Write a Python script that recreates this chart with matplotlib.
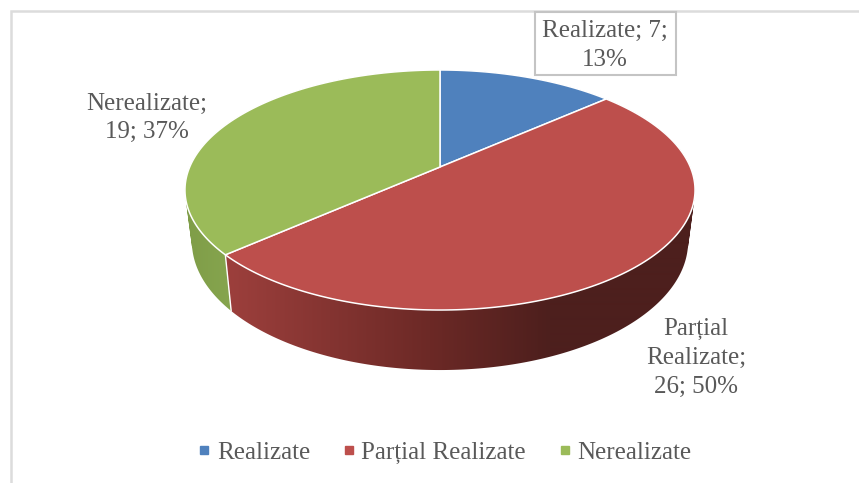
import numpy as np
import matplotlib
matplotlib.use("Agg")
import matplotlib.pyplot as plt
from matplotlib.colors import to_rgb
from matplotlib.lines import Line2D
from matplotlib.patches import PathPatch, Polygon, Rectangle
from matplotlib.path import Path

plt.rcParams["font.family"] = ["Liberation Serif", "DejaVu Serif"]

names = ["Realizate", "Parțial Realizate", "Nerealizate"]
values = [7, 26, 19]
label_heads = ["Realizate; {v};\n{p}%", "Parțial\nRealizate;\n{v}; {p}%", "Nerealizate;\n{v}; {p}%"]

colors = ["#4f81bd", "#bd4f4c", "#9bbb59"]
wall_x = [[200, 700], [230, 430, 550], [185, 232]]
wall_cols = [["#3f6797", "#3f6797"], ["#9c3f3c", "#6c2926", "#4d1f1d"], ["#7f9d48", "#86a54e"]]
label_pos = [(605, 45.5), (696, 358), (147, 118)]

TEXT = "#595959"
FS = 18


def project(theta, cx, cy, a, b, k=0.1917):
    # tilted disc, the far half looks shorter than the near half
    w = 1 + k * np.cos(theta)
    return cx + a * np.sin(theta) / w, cy - b * np.cos(theta) / w


def top(theta):
    return project(theta, 440, 167, 250.3, 115.6)


def bottom(theta):
    return project(theta, 440, 217, 243.5, 123.7)


fig = plt.figure(figsize=(8.59, 4.83), dpi=100)
ax = fig.add_axes([0, 0, 1, 1])
ax.axis("off")

# chart frame, cut off on the right and at the bottom
ax.plot([10.5, 10.5, 859], [483, 11, 11], color="#dcdcdc", lw=1.8, solid_joinstyle="miter")

total = sum(values)
edges = np.cumsum([0] + values) / total * 2 * np.pi

# side walls: horizontal gradient image clipped to the wall shape
xs = np.arange(859) + 0.5
for i in range(len(values)):
    th = np.linspace(edges[i], edges[i + 1], int((edges[i + 1] - edges[i]) * 120) + 2)
    tx, ty = top(th)
    bx, by = bottom(th)
    quads = []
    for j in range(len(th) - 1):
        q = [(tx[j], ty[j]), (tx[j + 1], ty[j + 1]), (bx[j + 1], by[j + 1]), (bx[j], by[j])]
        # same winding for every quad, or the nonzero fill cancels where they overlap
        area = sum(q[n][0] * q[(n + 1) % 4][1] - q[(n + 1) % 4][0] * q[n][1] for n in range(4))
        if area < 0:
            q = q[::-1]
        quads.append(Path(q + [q[0]], closed=True))
    shape = PathPatch(Path.make_compound_path(*quads), transform=ax.transData, facecolor="none", edgecolor="none")
    ax.add_patch(shape)
    rgb = np.array([to_rgb(c) for c in wall_cols[i]])
    grad = np.stack([np.interp(xs, wall_x[i], rgb[:, n]) for n in range(3)], axis=-1)[None, :, :]
    im = ax.imshow(grad, extent=(0, 859, 483, 0), aspect="auto", interpolation="bilinear", zorder=2)
    im.set_clip_path(shape)

# seams between the walls
for e in edges:
    tx, ty = top(e)
    bx, by = bottom(e)
    if ty > 177:
        ax.plot([tx, bx], [ty, by], color="white", lw=1.0, zorder=3)

# top face
for i in range(len(values)):
    th = np.linspace(edges[i], edges[i + 1], 200)
    tx, ty = top(th)
    pts = np.column_stack([np.r_[440, tx], np.r_[167, ty]])
    ax.add_patch(Polygon(pts, closed=True, facecolor=colors[i], edgecolor="white", lw=1.1, zorder=4))

# data labels
for i in range(len(values)):
    pct = round(values[i] / total * 100)
    txt = label_heads[i].format(v=values[i], p=pct)
    ax.text(label_pos[i][0], label_pos[i][1], txt, ha="center", va="center", color=TEXT,
            fontsize=FS, linespacing=1.4, zorder=6)
ax.add_patch(Rectangle((534.5, 12), 141.5, 63, facecolor="white", edgecolor="#c4c4c4", lw=1.5, zorder=5))

ax.set_xlim(0, 859)
ax.set_ylim(483, 0)

handles = [Line2D([], [], linestyle="none", marker="s", markersize=5.5, color=c) for c in colors]
ax.legend(handles, names, loc="center", bbox_to_anchor=(444 / 859, 1 - 452.5 / 483), ncol=3, frameon=False,
          fontsize=FS, labelcolor=TEXT, handlelength=0.6, handletextpad=0.2, columnspacing=1.25)

fig.savefig("out.png", dpi=100)
